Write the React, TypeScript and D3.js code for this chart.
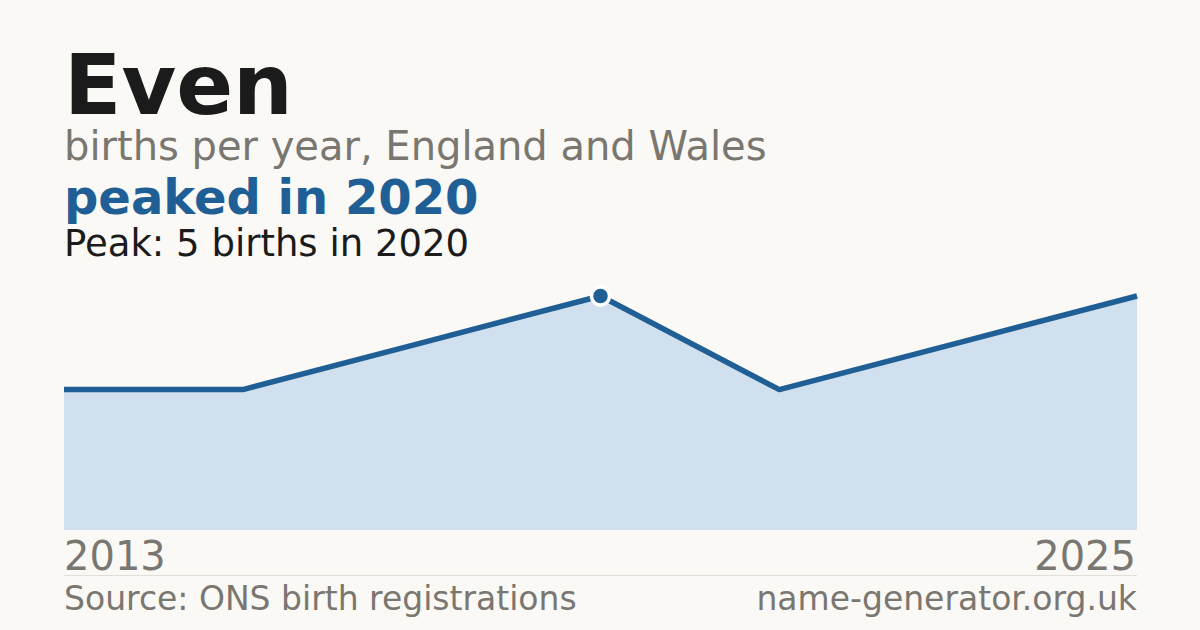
import React from "react"
import * as d3 from "d3"

const years = [2013, 2015, 2017, 2020, 2021, 2023, 2025]
const births = [3, 3, 4, 5, 3, 4, 5]
const axisLabels = ["2013", "2025"]

const width = 1200
const height = 630
const left = 64
const right = 1137
const chartTop = 296
const chartBottom = 530

const font = "DejaVu Sans, sans-serif"
const blue = "#1f5f95"
const grey = "#7a7670"

export default function App() {
  const x = d3
    .scalePoint<number>()
    .domain(years)
    .range([left, right])
    .padding(0)

  const y = d3
    .scaleLinear()
    .domain([0, d3.max(births) as number])
    .range([chartBottom, chartTop])

  const points = years.map((yr, i) => ({ year: yr, value: births[i] }))

  const area = d3
    .area<{ year: number; value: number }>()
    .x(d => x(d.year) as number)
    .y0(chartBottom)
    .y1(d => y(d.value))

  const line = d3
    .line<{ year: number; value: number }>()
    .x(d => x(d.year) as number)
    .y(d => y(d.value))

  // first year with the max value
  const peak = points.reduce((a, b) => (b.value > a.value ? b : a))

  return (
    <svg
      width={width}
      height={height}
      style={{ position: "fixed", left: 0, top: 0 }}
      fontFamily={font}
    >
      <rect width={width} height={height} fill="#faf9f5" />

      <text x={left} y={114} fontSize={84} fontWeight="bold" fill="#1b1b1b">
        Even
      </text>
      <text x={left} y={160} fontSize={40} fill={grey}>
        births per year, England and Wales
      </text>
      <text x={left} y={214} fontSize={48} fontWeight="bold" fill={blue}>
        peaked in {peak.year}
      </text>
      <text x={left} y={256} fontSize={37} fill="#1b1b1b">
        Peak: {peak.value} births in {peak.year}
      </text>

      <path d={area(points) ?? ""} fill="#d0e0ef" />
      <path
        d={line(points) ?? ""}
        fill="none"
        stroke={blue}
        strokeWidth={5.5}
        strokeLinejoin="round"
      />
      <circle
        cx={x(peak.year)}
        cy={y(peak.value)}
        r={9}
        fill={blue}
        stroke="#ffffff"
        strokeWidth={3.5}
      />

      <text x={left} y={570} fontSize={40} fill={grey}>
        {axisLabels[0]}
      </text>
      <text x={right - 1} y={570} fontSize={40} fill={grey} textAnchor="end">
        {axisLabels[1]}
      </text>

      <line x1={left} x2={right} y1={575.5} y2={575.5} stroke="#e2dfd8" strokeWidth={1} />

      <text x={left} y={610} fontSize={33} fill={grey}>
        Source: ONS birth registrations
      </text>
      <text x={right} y={610} fontSize={33} fill={grey} textAnchor="end">
        name-generator.org.uk
      </text>
    </svg>
  )
}
